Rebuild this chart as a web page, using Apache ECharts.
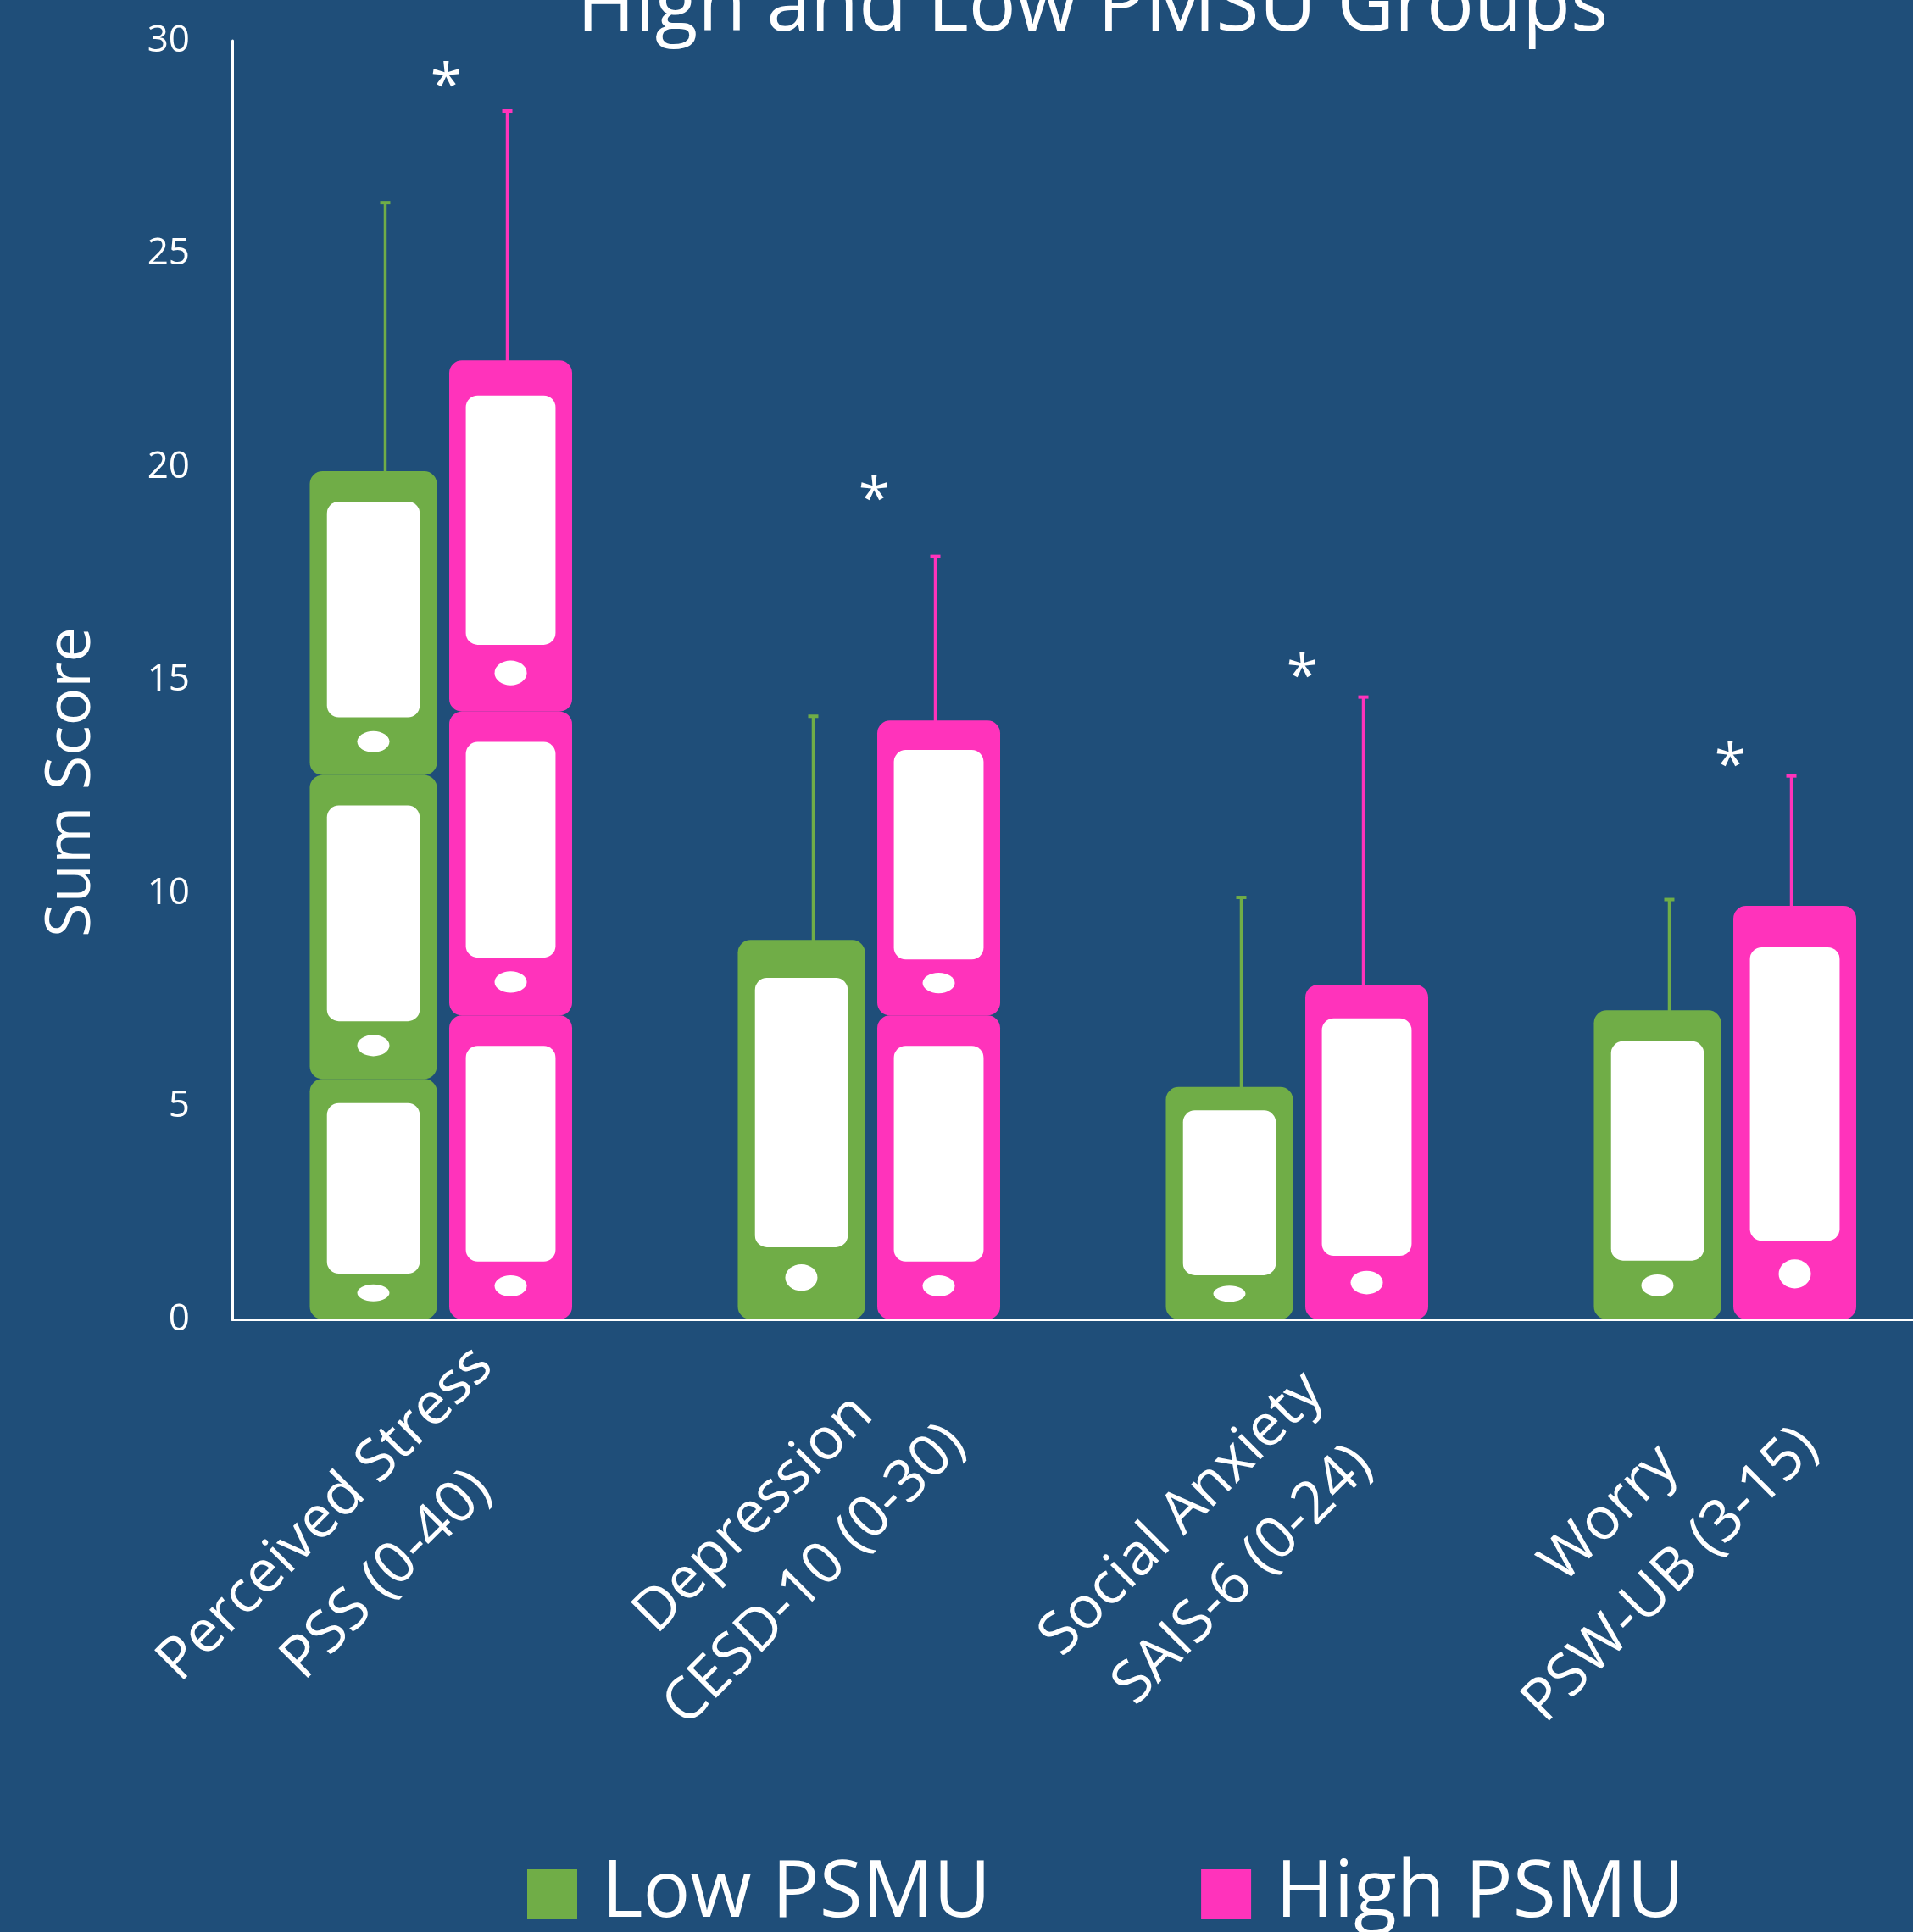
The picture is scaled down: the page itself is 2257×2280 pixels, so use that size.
<!DOCTYPE html>
<html>
<head>
<meta charset="utf-8">
<script src="https://cdn.jsdelivr.net/npm/echarts@6/dist/echarts.min.js"></script>
<style>
  html, body { margin: 0; padding: 0; background: #1F4E79; }
  #chart { width: 2257px; height: 2280px; }
</style>
</head>
<body>
<div id="chart"></div>
<script>
// Outcome measures (two-line category labels)
const constructs = ['Perceived Stress', 'Depression', 'Social Anxiety', 'Worry'];
const scales = ['PSS (0-40)', 'CESD-10 (0-30)', 'SAIS-6 (0-24)', 'PSW-UB (3-15)'];

// Group means and standard deviations of the sum scores
const lowMean = [19.9, 8.9, 5.45, 7.25];
const lowSD = [6.3, 5.25, 4.45, 2.6];
const highMean = [22.5, 14.05, 7.85, 9.7];
const highSD = [5.85, 3.85, 6.75, 3.05];

// Height at which each significance asterisk sits
const starY = [29.15, 19.45, 15.3, 13.2];

// Value axis
const yMin = 0, yMax = 30, yStep = 5;

const GREEN = '#70AD47';
const PINK = '#FF33BB';
const BG = '#1F4E79';
const FONT = '"Open Sans", "Noto Sans", sans-serif';
const PHONE_UNIT = 7.13; // score units covered by one full-size phone

const categories = constructs.map((c, i) => c + '\n' + scales[i]);

function phoneShapes(cx, top, bottom, w, color) {
  const H = bottom - top;
  return [
    { type: 'rect', shape: { x: cx - w / 2, y: top, width: w, height: H, r: 15 }, style: { fill: color } },
    { type: 'rect', shape: { x: cx - w * 0.365, y: top + H * 0.1, width: w * 0.73, height: H * 0.71, r: 14 }, style: { fill: '#fff' } },
    { type: 'ellipse', shape: { cx: cx, cy: top + H * 0.89, rx: 19, ry: H * 0.035 }, style: { fill: '#fff' } }
  ];
}

function phoneSeries(name, color, means, sds, side, shift, width, remainderOnTop) {
  return {
    type: 'custom',
    name: name,
    xAxisIndex: 0,
    yAxisIndex: 0,
    itemStyle: { color: color },
    data: means.map((m, i) => [i, m, m + sds[i]]),
    renderItem: function (params, api) {
      const i = api.value(0), mean = api.value(1), upper = api.value(2);
      const band = api.size([1, 0])[0];
      const base = api.coord([i, 0]);
      const bx = base[0] + side * band * 0.1426;
      const yMean = api.coord([i, mean])[1];
      const yUp = api.coord([i, upper])[1];
      const children = [
        { type: 'line', shape: { x1: bx, y1: yMean + 4, x2: bx, y2: yUp }, style: { stroke: color, lineWidth: 3.5 } },
        { type: 'line', shape: { x1: bx - 6, y1: yUp, x2: bx + 6, y2: yUp }, style: { stroke: color, lineWidth: 4 } }
      ];
      // stack of phones: full-size units plus one resized phone for the remainder
      const n = Math.max(1, Math.round(mean / PHONE_UNIT));
      const rest = mean - (n - 1) * PHONE_UNIT;
      const segs = [];
      for (let k = 0; k < n - 1; k++) segs.push(PHONE_UNIT);
      if (remainderOnTop) segs.push(rest); else segs.unshift(rest);
      let acc = 0;
      const px = bx + shift;
      segs.forEach(s => {
        const b = api.coord([i, acc])[1];
        const t = api.coord([i, acc + s])[1];
        children.push.apply(children, phoneShapes(px, t, b, width, color));
        acc += s;
      });
      return { type: 'group', children: children };
    }
  };
}

const chart = echarts.init(document.getElementById('chart'), null, { renderer: 'canvas' });

chart.setOption({
  backgroundColor: BG,
  animation: false,
  textStyle: { fontFamily: FONT },
  title: {
    text: 'High and Low PMSU Groups',
    left: 1289,
    top: -37,
    padding: 0,
    textAlign: 'center',
    textStyle: { color: '#fff', fontSize: 93, fontWeight: 'normal', fontFamily: FONT }
  },
  legend: {
    data: ['Low PSMU', 'High PSMU'],
    left: 622,
    top: 2189,
    padding: 0,
    icon: 'rect',
    itemWidth: 59,
    itemHeight: 59,
    itemGap: 248,
    selectedMode: false,
    textStyle: { color: '#fff', fontSize: 93, fontFamily: FONT, padding: [0, 0, 0, 24] }
  },
  graphic: [
    {
      type: 'text', x: 85, y: 923, rotation: Math.PI / 2,
      style: { text: 'Sum Score', fill: '#fff', font: '74px ' + FONT, align: 'center', verticalAlign: 'middle' }
    }
  ],
  grid: [
    { left: 274, width: 2020, top: 48, bottom: 723, containLabel: false, outerBoundsMode: 'none' },
    { left: 168, width: 2020, top: 48, bottom: 723, containLabel: false, outerBoundsMode: 'none' }
  ],
  xAxis: [
    {
      type: 'category', gridIndex: 0, data: categories, z: 10,
      axisLine: { show: true, lineStyle: { color: '#fff', width: 3 } },
      axisTick: { show: false },
      axisLabel: { show: false }
    },
    {
      type: 'category', gridIndex: 1, data: categories,
      axisLine: { show: false },
      axisTick: { show: false },
      axisLabel: {
        interval: 0,
        rotate: 45,
        align: 'center',
        verticalAlign: 'middle',
        margin: 266,
        color: '#fff',
        fontSize: 69,
        lineHeight: 102,
        fontFamily: FONT,
        formatter: function (v) {
          return v.split('\n').map(l => '{c|' + l + '}').join('\n');
        },
        rich: {
          c: { align: 'center', color: '#fff', fontSize: 69, lineHeight: 102, fontFamily: FONT }
        }
      }
    }
  ],
  yAxis: [
    {
      type: 'value', gridIndex: 0, min: yMin, max: yMax, interval: yStep,
      axisLine: { show: true, lineStyle: { color: '#fff', width: 3 } },
      axisTick: { show: false },
      splitLine: { show: false },
      axisLabel: { color: '#fff', fontSize: 44, margin: 50, fontFamily: FONT }
    },
    { type: 'value', gridIndex: 1, min: yMin, max: yMax, show: false }
  ],
  series: [
    phoneSeries('Low PSMU', GREEN, lowMean, lowSD, -1, -14, 150, false),
    phoneSeries('High PSMU', PINK, highMean, highSD, 1, 4, 145, true),
    {
      type: 'custom',
      name: 'sig',
      xAxisIndex: 0,
      yAxisIndex: 0,
      silent: true,
      data: starY.map((y, i) => [i, y]),
      renderItem: function (params, api) {
        const p = api.coord([api.value(0), api.value(1)]);
        return {
          type: 'text', x: p[0], y: p[1] + 14,
          style: { text: '*', fill: '#fff', font: '68px ' + FONT, align: 'center', verticalAlign: 'middle' }
        };
      }
    }
  ]
});
</script>
</body>
</html>
